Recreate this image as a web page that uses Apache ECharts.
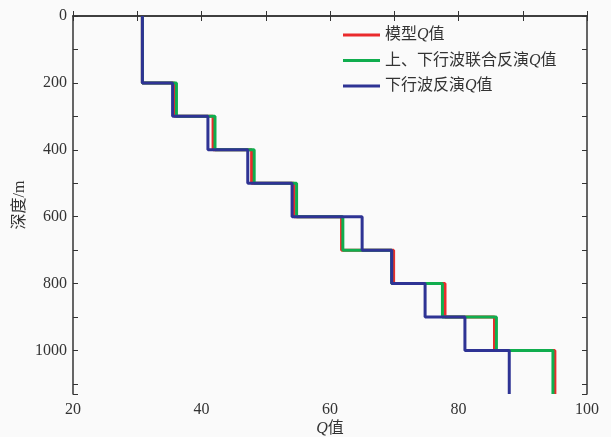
<!DOCTYPE html>
<html><head><meta charset="utf-8">
<script src="https://cdn.jsdelivr.net/npm/echarts@6/dist/echarts.min.js"></script>
<style>html,body{margin:0;padding:0;background:#fafafa}#c{width:611px;height:437px}</style>
</head><body><div id="c"></div>
<script>
// Layer boundaries (depth, m)
const depthTops = [0, 200, 300, 400, 500, 600, 700, 800, 900, 1000];
const depthBottoms = [200, 300, 400, 500, 600, 700, 800, 900, 1000, 1130];
// Q values per layer
const modelQ =   [30.8, 35.8, 41.8, 47.8, 54.4, 61.8, 69.9, 77.9, 85.6, 95.0];
const jointQ =   [30.8, 36.1, 42.1, 48.2, 54.8, 62.0, 69.6, 77.5, 85.9, 94.7];
const downQ =    [30.8, 35.5, 41.0, 47.2, 54.1, 65.0, 69.6, 74.8, 81.0, 87.9];
const seriesNames = ['模型Q值', '上、下行波联合反演Q值', '下行波反演Q值'];
const xTickLabels = [20, 40, 60, 80, 100];
const yTickLabels = [0, 200, 400, 600, 800, 1000];

function stepData(vals) {
  const d = [];
  vals.forEach((v, i) => { d.push([v, depthTops[i]]); d.push([v, depthBottoms[i]]); });
  return d;
}
const FONT = '"Liberation Serif", "Noto Sans CJK SC", serif';
const axisCol = '#333';
const chart = echarts.init(document.getElementById('c'));
const colors = ['#ea2a2c', '#10ad4e', '#2e3394'];
const richQ = { q: { fontStyle: 'italic', fontFamily: FONT, fontSize: 16, color: '#333' } };
function qLabel(name) { return name.replace('Q', '{q|Q}'); }

chart.setOption({
  backgroundColor: '#fafafa',
  animation: false,
  grid: { left: 73, right: 24, top: 16, bottom: 43, containLabel: false, outerBoundsMode: 'none' },
  legend: {
    orient: 'vertical', left: 338, top: 21,
    itemWidth: 37, itemHeight: 3, itemGap: 7.5, icon: 'rect',
    data: seriesNames,
    formatter: qLabel,
    textStyle: { fontFamily: FONT, fontSize: 16, color: '#333', lineHeight: 18, rich: richQ }
  },
  xAxis: [{
    type: 'value', min: 20, max: 100, interval: 10, position: 'bottom',
    name: '{q|Q}值', nameLocation: 'middle', nameGap: 27, nameMoveOverlap: false,
    nameTextStyle: { fontFamily: FONT, fontSize: 16, color: '#333', rich: richQ },
    axisLine: { lineStyle: { color: axisCol, width: 1.5 } },
    axisTick: { inside: true, length: 5, lineStyle: { color: axisCol } },
    axisLabel: { fontFamily: FONT, fontSize: 16, color: '#333', margin: 8,
      formatter: v => xTickLabels.includes(v) ? String(v) : '' },
    splitLine: { show: false }
  }, {
    type: 'value', min: 20, max: 100, interval: 10, position: 'top',
    axisLine: { lineStyle: { color: axisCol, width: 1.5 } },
    axisTick: { inside: true, length: 5, lineStyle: { color: axisCol } },
    axisLabel: { show: false }, splitLine: { show: false }
  }],
  yAxis: [{
    type: 'value', min: 0, max: 1130, interval: 100, inverse: true, position: 'left',
    name: '深度/m', nameLocation: 'middle', nameGap: 45, nameMoveOverlap: false,
    nameTextStyle: { fontFamily: FONT, fontSize: 16, color: '#333' },
    axisLine: { lineStyle: { color: axisCol, width: 1.5 } },
    axisTick: { inside: true, length: 5, lineStyle: { color: axisCol } },
    axisLabel: { fontFamily: FONT, fontSize: 16, color: '#333', margin: 6,
      formatter: v => yTickLabels.includes(v) ? String(v) : '' },
    splitLine: { show: false }
  }, {
    type: 'value', min: 0, max: 1130, interval: 100, inverse: true, position: 'right',
    axisLine: { lineStyle: { color: axisCol, width: 1.5 } },
    axisTick: { inside: true, length: 5, lineStyle: { color: axisCol } },
    axisLabel: { show: false }, splitLine: { show: false }
  }],
  series: [modelQ, jointQ, downQ].map((vals, i) => ({
    name: seriesNames[i], type: 'line', data: stepData(vals),
    xAxisIndex: 0, yAxisIndex: 0,
    showSymbol: false, symbol: 'none',
    lineStyle: { color: colors[i], width: 3 }, itemStyle: { color: colors[i] },
    z: 2 + i
  }))
});
</script></body></html>
